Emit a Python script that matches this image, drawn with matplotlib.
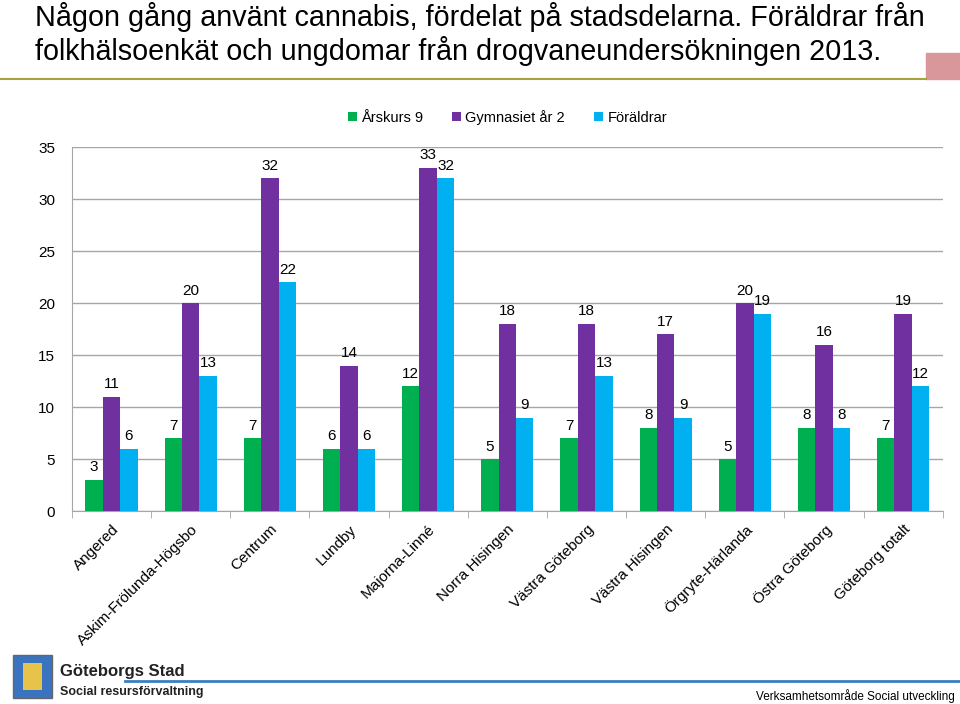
import numpy as np
import matplotlib.pyplot as plt
from matplotlib.patches import Rectangle

plt.rcParams['font.family'] = ['Liberation Sans', 'DejaVu Sans']

# data
districts = ['Angered', 'Askim-Frölunda-Högsbo', 'Centrum', 'Lundby', 'Majorna-Linné',
             'Norra Hisingen', 'Västra Göteborg', 'Västra Hisingen', 'Örgryte-Härlanda',
             'Östra Göteborg', 'Göteborg totalt']
arskurs9 = [3, 7, 7, 6, 12, 5, 7, 8, 5, 8, 7]
gymnasiet2 = [11, 20, 32, 14, 33, 18, 18, 17, 20, 16, 19]
foraldrar = [6, 13, 22, 6, 32, 9, 13, 9, 19, 8, 12]

series = [('Årskurs 9', arskurs9, '#00b050'),
          ('Gymnasiet år 2', gymnasiet2, '#7030a0'),
          ('Föräldrar', foraldrar, '#00b0f0')]

fig = plt.figure(figsize=(9.6, 7.04), dpi=100)
ax = fig.add_axes([0.075, 0.274, 0.907, 0.517])

x = np.arange(len(districts))
w = 0.22
for i, (name, vals, col) in enumerate(series):
    pos = x + (i - 1) * w
    bars = ax.bar(pos, vals, w, color=col, label=name, zorder=3)
    for b, v in zip(bars, vals):
        ax.annotate(str(v), (b.get_x() + b.get_width() / 2, v), xytext=(0, 4),
                    textcoords='offset points', ha='center', va='bottom', fontsize=11)

ax.set_xlim(-0.5, len(districts) - 0.5)
ax.set_ylim(0, 35)
ax.set_yticks(range(0, 36, 5))
ax.yaxis.grid(True, color='#a6a6a6', linewidth=1, zorder=0)
ax.tick_params(axis='y', length=0, labelsize=11, pad=12)
ax.set_xticks(x)
ax.set_xticklabels(districts, rotation=45, ha='right', rotation_mode='anchor', fontsize=11)
ax.tick_params(axis='x', length=0, pad=8)
# category boundary ticks
ax.set_xticks(np.arange(-0.5, len(districts)), minor=True)
ax.tick_params(axis='x', which='minor', length=5, color='#a6a6a6', direction='out')
for s in ['top', 'right']:
    ax.spines[s].set_visible(False)
for s in ['left', 'bottom']:
    ax.spines[s].set_color('#a6a6a6')

ax.legend(loc='lower center', bbox_to_anchor=(0.5, 1.025), ncol=3, frameon=False,
          fontsize=10.5, handlelength=0.6, handleheight=0.6, handletextpad=0.3, columnspacing=2)

# title
fig.text(0.036, 0.997, 'Någon gång använt cannabis, fördelat på stadsdelarna. Föräldrar från\n'
         'folkhälsoenkät och ungdomar från drogvaneundersökningen 2013.',
         fontsize=20.7, va='top', ha='left', linespacing=1.18)
fig.add_artist(plt.Line2D([0, 0.965], [0.888, 0.888], color='#a8a23c', linewidth=1.5))
fig.add_artist(Rectangle((0.965, 0.888), 0.035, 0.037, color='#d9969b'))

# footer
fig.add_artist(Rectangle((0.014, 0.008), 0.04, 0.062, facecolor='#3a74c0', edgecolor='#666666'))
fig.add_artist(Rectangle((0.024, 0.02), 0.02, 0.038, facecolor='#e8c34a', edgecolor='none'))
fig.text(0.062, 0.046, 'Göteborgs Stad', fontsize=12, fontweight='bold', color='#222222',
         va='center')
fig.text(0.062, 0.017, 'Social resursförvaltning', fontsize=9, fontweight='bold', color='#222222',
         va='center')
fig.add_artist(plt.Line2D([0.13, 1.0], [0.033, 0.033], color='#3d7dc4', linewidth=2))
fig.text(0.995, 0.012, 'Verksamhetsområde Social utveckling', fontsize=8.5, ha='right', va='center')

fig.savefig('out.png', dpi=100)
